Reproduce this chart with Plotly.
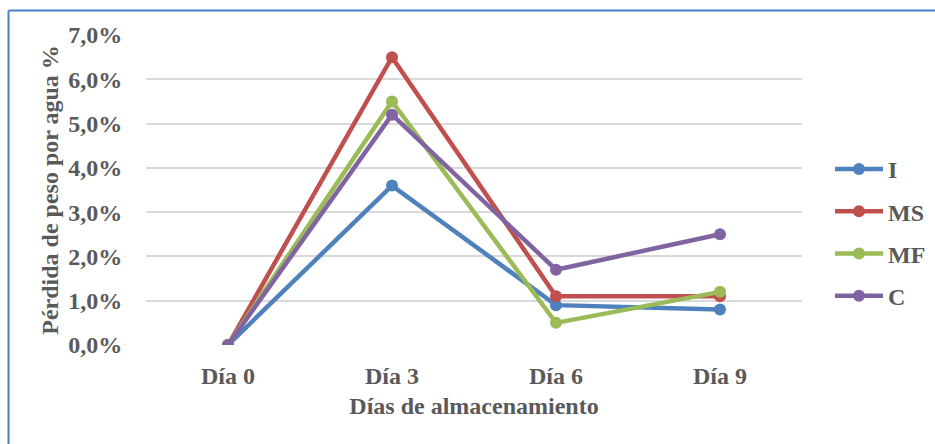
import plotly.graph_objects as go

categories = ["Día 0", "Día 3", "Día 6", "Día 9"]
series_names = ["I", "MS", "MF", "C"]
values_I = [0.0, 3.6, 0.9, 0.8]
values_MS = [0.0, 6.5, 1.1, 1.1]
values_MF = [0.0, 5.5, 0.5, 1.2]
values_C = [0.0, 5.2, 1.7, 2.5]
y_ticks = [0, 1, 2, 3, 4, 5, 6, 7]
y_tick_labels = ["0,0%", "1,0%", "2,0%", "3,0%", "4,0%", "5,0%", "6,0%", "7,0%"]

colors = ["#4F81BD", "#C0504D", "#9BBB59", "#8064A2"]
all_values = [values_I, values_MS, values_MF, values_C]

W, H = 935, 444
L, R, T, B = 146, 133, 35, 99
pw, ph = W - L - R, H - T - B

FONT = "Liberation Serif"
TXT = "#595959"
FS = 24

fig = go.Figure()
for name, vals, col in zip(series_names, all_values, colors):
    fig.add_trace(go.Scatter(
        x=categories, y=vals, name=name, mode="lines+markers",
        line=dict(color=col, width=4.5),
        marker=dict(color=col, size=12),
        legendgroup=name,
    ))

def px_x(x):
    return (x - L) / pw

def px_y(y):
    return (H - B - y) / ph

shapes = [
    dict(type="line", xref="paper", yref="paper", x0=px_x(8.5), x1=px_x(W + 5),
         y0=px_y(10.5), y1=px_y(10.5), line=dict(color="#4A7EC8", width=2)),
    dict(type="line", xref="paper", yref="paper", x0=px_x(8.5), x1=px_x(8.5),
         y0=px_y(10.5), y1=px_y(H + 5), line=dict(color="#4A7EC8", width=2)),
]

fig.update_layout(
    width=W, height=H,
    margin=dict(l=L, r=R, t=T, b=B, pad=0, autoexpand=False),
    paper_bgcolor="white", plot_bgcolor="white",
    font=dict(family=FONT, color=TXT, size=FS),
    shapes=shapes,
    showlegend=True,
    legend=dict(x=px_x(830), y=px_y(147), xanchor="left", yanchor="top",
                font=dict(family=FONT, color=TXT, size=FS, weight="bold"),
                tracegroupgap=8, itemwidth=48, bgcolor="rgba(0,0,0,0)"),
    xaxis=dict(
        type="category", range=[-0.5, 3.5], showgrid=False, zeroline=False,
        showline=False, ticks="outside", ticklen=9, tickcolor="rgba(0,0,0,0)",
        tickfont=dict(family=FONT, color=TXT, size=FS, weight="bold"),
        title=dict(text="<b>Días de almacenamiento</b>", standoff=9,
                   font=dict(family=FONT, color=TXT, size=FS)),
    ),
    yaxis=dict(
        range=[0, 7], tickmode="array", tickvals=y_ticks, ticktext=y_tick_labels,
        showgrid=True, gridcolor="#D9D9D9", gridwidth=2, zeroline=False,
        showline=False, ticks="outside", ticklen=18, tickcolor="rgba(0,0,0,0)",
        tickfont=dict(family=FONT, color=TXT, size=FS, weight="bold"),
        title=dict(text="<b>Pérdida de peso por agua %</b>", standoff=2,
                   font=dict(family=FONT, color=TXT, size=FS)),
    ),
)

fig.write_html("out.html", config={"displayModeBar": False},
               post_script="document.body.style.margin='0';document.body.style.overflow='hidden';")
